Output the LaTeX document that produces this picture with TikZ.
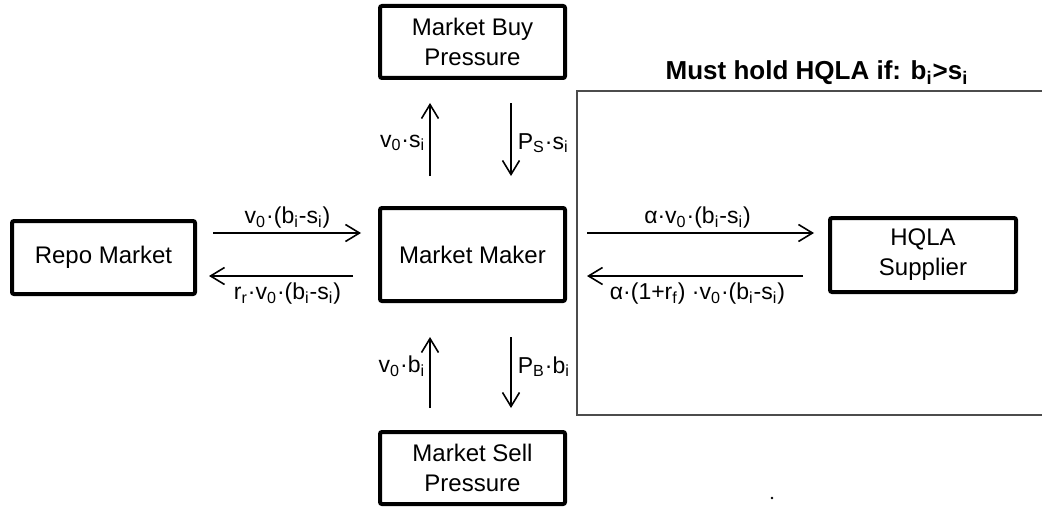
\documentclass[tikz,border=0pt]{standalone}
\usepackage{fontspec}
\setmainfont{Liberation Sans}
\usetikzlibrary{positioning,arrows.meta}
\newcommand{\sbs}[1]{\textsubscript{#1}}
\tikzset{
    blk/.style={draw, line width=2pt, rounded corners=1pt, align=center, font=\fontsize{12}{15}\selectfont, inner sep=0pt},
    flow/.style={line width=0.8pt, -{Straight Barb[length=7pt,width=8.5pt,line width=0.8pt]}},
    lbl/.style={font=\fontsize{11.5}{13}\selectfont, inner sep=2pt}
}

\begin{document}
\begin{tikzpicture}[x=0.5pt, y=-0.5pt]
        \useasboundingbox (0,0) rectangle (1042,508);

        \node[blk, minimum width=92.5pt, minimum height=36pt] (buy) at (472.5,42) {Market Buy\\Pressure};
        \node[blk, minimum width=91.5pt, minimum height=36.5pt] (repo) at (103.5,257.5) {Repo Market};
        \node[blk, minimum width=92.5pt, minimum height=46.5pt] (maker) at (472.5,254.5) {Market Maker};
        \node[blk, minimum width=92.5pt, minimum height=36pt] (sell) at (472.5,468) {Market Sell\\Pressure};
        \node[blk, minimum width=93pt, minimum height=37pt] (hqla) at (923,255) {HQLA\\Supplier};

        \draw[black!70, line width=0.8pt] (1045,91) -- (577,91) -- (577,415) -- (1045,415);
        \node[font=\bfseries\fontsize{13}{15}\selectfont] (cond) at (817,73) {Must hold HQLA if: b\sbs{i}>s\sbs{i}};
        \fill (772,498) circle (1.4);

        \coordinate (mu) at ([yshift=10.75pt]maker.west);
        \coordinate (ml) at ([yshift=-10.75pt]maker.west);
        \coordinate (nu) at ([yshift=10.75pt]maker.east);
        \coordinate (nl) at ([yshift=-10.75pt]maker.east);
        \coordinate (ba) at ([xshift=-21.25pt]maker.north);
        \coordinate (bb) at ([xshift=19.25pt]maker.north);
        \coordinate (sa) at ([xshift=-21.25pt]maker.south);
        \coordinate (sb) at ([xshift=19.25pt]maker.south);

        \draw[flow, shorten <=8pt, shorten >=8.5pt] (repo.east |- mu) -- (mu)
            node[lbl, midway, above] {v\sbs{0}·(b\sbs{i}-s\sbs{i})};
        \draw[flow, shorten <=12.5pt, shorten >=6pt] (ml) -- (repo.east |- ml)
            node[lbl, midway, below, yshift=-1pt] {r\sbs{r}·v\sbs{0}·(b\sbs{i}-s\sbs{i})};
        \draw[flow, shorten <=10pt, shorten >=7pt] (nu) -- (hqla.west |- nu)
            node[lbl, midway, above] {α·v\sbs{0}·(b\sbs{i}-s\sbs{i})};
        \draw[flow, shorten <=12.5pt, shorten >=10pt] (hqla.west |- nl) -- (nl)
            node[lbl, midway, below, yshift=-1pt] {α·(1+r\sbs{f}) ·v\sbs{0}·(b\sbs{i}-s\sbs{i})};

        \draw[flow, shorten <=15pt, shorten >=11.5pt] (ba) -- (buy.south -| ba)
            node[lbl, midway, left] {v\sbs{0}·s\sbs{i}};
        \draw[flow, shorten <=11.5pt, shorten >=15pt] (buy.south -| bb) -- (bb)
            node[lbl, midway, right, xshift=1pt] {P\sbs{S}·s\sbs{i}};
        \draw[flow, shorten <=11pt, shorten >=17pt] (sell.north -| sa) -- (sa)
            node[lbl, midway, left] {v\sbs{0}·b\sbs{i}};
        \draw[flow, shorten <=17pt, shorten >=11pt] (sb) -- (sell.north -| sb)
            node[lbl, midway, right, xshift=1pt] {P\sbs{B}·b\sbs{i}};

    \end{tikzpicture}
\end{document}
